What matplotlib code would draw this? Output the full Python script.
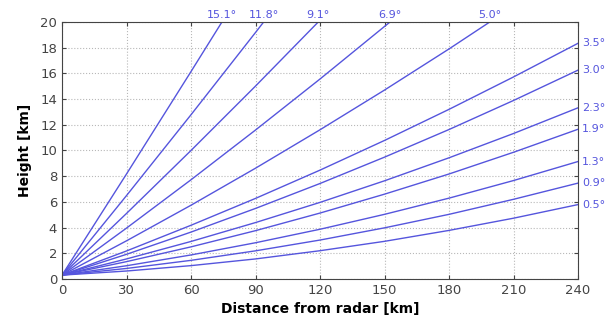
import matplotlib.pyplot as plt

# elevation angles and beam heights (distance km -> height km)
angles = ['0.5°', '0.9°', '1.3°', '1.9°', '2.3°', '3.0°', '3.5°', '5.0°', '6.9°', '9.1°', '11.8°', '15.1°']
dist_low = [0, 30, 60, 90, 120, 150, 180, 210, 240]
h_05 = [0.3, 0.62, 1.04, 1.56, 2.20, 2.93, 3.78, 4.73, 5.79]
h_09 = [0.3, 0.82, 1.45, 2.19, 3.03, 3.98, 5.03, 6.20, 7.46]
h_13 = [0.3, 1.03, 1.87, 2.82, 3.87, 5.03, 6.29, 7.66, 9.14]
h_19 = [0.3, 1.35, 2.50, 3.76, 5.13, 6.60, 8.17, 9.86, 11.65]
h_23 = [0.3, 1.56, 2.92, 4.39, 5.96, 7.64, 9.43, 11.32, 13.32]
h_30 = [0.3, 1.92, 3.65, 5.49, 7.43, 9.48, 11.63, 13.89, 16.25]
h_35 = [0.3, 2.18, 4.18, 6.27, 8.47, 10.78, 13.20, 15.72, 18.34]
dist_50 = [0, 30, 60, 90, 120, 150, 180, 199]
h_50 = [0.3, 2.97, 5.74, 8.62, 11.61, 14.70, 17.90, 20.0]
dist_69 = [0, 30, 60, 90, 120, 150, 152.6]
h_69 = [0.3, 3.96, 7.72, 11.59, 15.56, 19.65, 20.0]
dist_91 = [0, 30, 60, 90, 119.2]
h_91 = [0.3, 5.10, 10.00, 15.01, 20.0]
dist_118 = [0, 30, 60, 90, 93.8]
h_118 = [0.3, 6.49, 12.78, 19.18, 20.0]
dist_151 = [0, 30, 60, 74.4]
h_151 = [0.3, 8.17, 16.14, 20.0]

series = [
    (dist_low, h_05), (dist_low, h_09), (dist_low, h_13), (dist_low, h_19),
    (dist_low, h_23), (dist_low, h_30), (dist_low, h_35),
    (dist_50, h_50), (dist_69, h_69), (dist_91, h_91), (dist_118, h_118), (dist_151, h_151),
]

line_color = '#5555dd'

fig = plt.figure(figsize=(6.05, 3.33), dpi=100)
ax = fig.add_axes([0.1025, 0.1622, 0.853, 0.772])

for label, (d, h) in zip(angles, series):
    ax.plot(d, h, color=line_color, lw=1.0)
    if h[-1] >= 20:
        ax.annotate(label, (d[-1], h[-1]), xytext=(0, 1.5), textcoords='offset points',
                    ha='center', va='bottom', color=line_color, fontsize=8, annotation_clip=False)
    else:
        ax.annotate(label, (d[-1], h[-1]), xytext=(3, 0), textcoords='offset points',
                    ha='left', va='center', color=line_color, fontsize=8, annotation_clip=False)

ax.set_xlim(0, 240)
ax.set_ylim(0, 20)
ax.set_xticks(range(0, 241, 30))
ax.set_yticks(range(0, 21, 2))
ax.grid(True, linestyle=':', color='#b8b8b8', lw=0.8)
ax.tick_params(direction='in', top=True, right=True, labelsize=9.5, colors='#444444', length=3)
for s in ax.spines.values():
    s.set_color('#444444')
    s.set_linewidth(0.8)

ax.set_xlabel('Distance from radar [km]', fontweight='bold', fontsize=10, labelpad=4)
ax.set_ylabel('Height [km]', fontweight='bold', fontsize=10, labelpad=6)

fig.savefig('out.png', dpi=100)
